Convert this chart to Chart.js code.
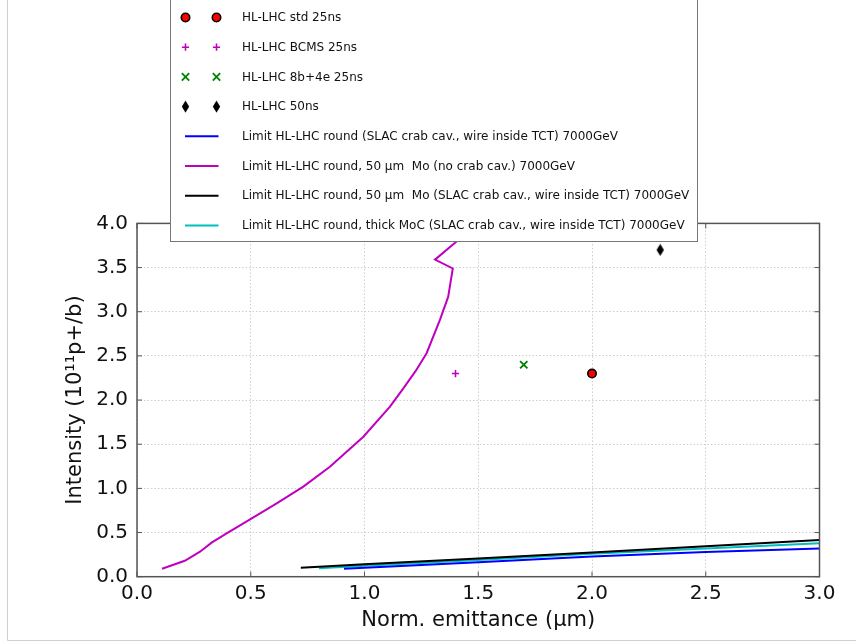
<!DOCTYPE html>
<html>
<head>
<meta charset="utf-8">
<script src="https://cdn.jsdelivr.net/npm/chart.js@4.4.1/dist/chart.umd.min.js"></script>
<style>
  body { margin: 0; background: #fff; }
  #wrap { position: relative; width: 856px; height: 644px; }
</style>
</head>
<body>
<div id="wrap"><canvas id="grafico" width="856" height="644"></canvas></div>
<script>
// tick values
const xTicks = [0, 0.5, 1.0, 1.5, 2.0, 2.5, 3.0];
const yTicks = [0, 0.5, 1.0, 1.5, 2.0, 2.5, 3.0, 3.5, 4.0];

// scenario points
const stdX = [2.0], stdY = [2.3];
const bcmsX = [1.4], bcmsY = [2.3];
const b8e4X = [1.7], b8e4Y = [2.4];
const ns50X = [2.3], ns50Y = [3.7];

// limit curves
const slacX = [0.91, 1.0, 1.5, 2.0, 2.5, 3.0];
const slacY = [0.09, 0.10, 0.165, 0.23, 0.28, 0.32];

const noCrabX = [0.11, 0.21, 0.277, 0.328, 0.394, 0.497, 0.614, 0.731, 0.848, 0.995, 1.112, 1.17, 1.225, 1.273, 1.332, 1.368, 1.388, 1.31, 1.398, 1.46, 1.52];
const noCrabY = [0.09, 0.18, 0.283, 0.385, 0.49, 0.65, 0.83, 1.02, 1.245, 1.585, 1.925, 2.13, 2.33, 2.53, 2.91, 3.17, 3.49, 3.59, 3.78, 3.92, 4.05];

const moSlacX = [0.72, 1.0, 1.5, 2.0, 2.5, 3.0];
const moSlacY = [0.10, 0.14, 0.205, 0.275, 0.345, 0.415];

const mocX = [0.80, 1.0, 1.5, 2.0, 2.5, 3.0];
const mocY = [0.095, 0.125, 0.19, 0.26, 0.32, 0.38];

const pares = (xs, ys) => xs.map((x, i) => ({ x, y: ys[i] }));

// losango fino (marcador 'd')
const losango = document.createElement('canvas');
losango.width = 9; losango.height = 13;
(function () {
  const c = losango.getContext('2d');
  c.fillStyle = '#000';
  c.beginPath();
  c.moveTo(4.5, 0.5); c.lineTo(8.2, 6.5); c.lineTo(4.5, 12.5); c.lineTo(0.8, 6.5);
  c.closePath(); c.fill();
})();

const datasets = [
  { label: 'HL-LHC std 25ns', data: pares(stdX, stdY), pointStyle: 'circle', pointRadius: 4.2,
    backgroundColor: '#ff0000', borderColor: '#000', pointBorderWidth: 1.6, showLine: false },
  { label: 'HL-LHC BCMS 25ns', data: pares(bcmsX, bcmsY), pointStyle: 'cross', pointRadius: 3.6,
    borderColor: '#bf00bf', backgroundColor: '#bf00bf', pointBorderWidth: 1.6, showLine: false },
  { label: 'HL-LHC 8b+4e 25ns', data: pares(b8e4X, b8e4Y), pointStyle: 'crossRot', pointRadius: 5.2,
    borderColor: '#008000', backgroundColor: '#008000', pointBorderWidth: 1.8, showLine: false },
  { label: 'HL-LHC 50ns', data: pares(ns50X, ns50Y), pointStyle: losango, pointRadius: 6,
    borderColor: '#000', backgroundColor: '#000', showLine: false },
  { label: 'Limit HL-LHC round (SLAC crab cav., wire inside TCT) 7000GeV', data: pares(slacX, slacY),
    showLine: true, borderColor: '#0000ff', borderWidth: 2, pointRadius: 0, tension: 0 },
  { label: 'Limit HL-LHC round, 50 μm  Mo (no crab cav.) 7000GeV', data: pares(noCrabX, noCrabY),
    showLine: true, borderColor: '#bf00bf', borderWidth: 2, pointRadius: 0, tension: 0 },
  { label: 'Limit HL-LHC round, 50 μm  Mo (SLAC crab cav., wire inside TCT) 7000GeV', data: pares(moSlacX, moSlacY),
    showLine: true, borderColor: '#000000', borderWidth: 2, pointRadius: 0, tension: 0 },
  { label: 'Limit HL-LHC round, thick MoC (SLAC crab cav., wire inside TCT) 7000GeV', data: pares(mocX, mocY),
    showLine: true, borderColor: '#00bfbf', borderWidth: 2, pointRadius: 0, tension: 0 }
];

const moldura = {
  id: 'moldura',
  afterDatasetsDraw(chart) {
    const { ctx, chartArea: a, scales } = chart;
    ctx.save();
    ctx.strokeStyle = '#555';
    ctx.lineWidth = 1.5;
    ctx.strokeRect(a.left, a.top, a.right - a.left, a.bottom - a.top);
    ctx.lineWidth = 1;
    ctx.beginPath();
    xTicks.forEach(v => {
      const px = scales.x.getPixelForValue(v);
      ctx.moveTo(px, a.bottom); ctx.lineTo(px, a.bottom - 5);
      ctx.moveTo(px, a.top); ctx.lineTo(px, a.top + 5);
    });
    yTicks.forEach(v => {
      const py = scales.y.getPixelForValue(v);
      ctx.moveTo(a.left, py); ctx.lineTo(a.left + 5, py);
      ctx.moveTo(a.right, py); ctx.lineTo(a.right - 5, py);
    });
    ctx.stroke();
    ctx.restore();
  },
  afterDraw(chart) {
    const ctx = chart.ctx;
    ctx.save();
    // borda da imagem
    ctx.strokeStyle = '#cfcfcf';
    ctx.lineWidth = 1;
    ctx.beginPath();
    ctx.moveTo(7.5, 0); ctx.lineTo(7.5, 640.5); ctx.lineTo(856, 640.5);
    ctx.stroke();

    // legenda
    const L = 170.5, T = -0.5, R = 697.5, B = 241.5;
    ctx.fillStyle = '#fff';
    ctx.fillRect(L, T, R - L, B - T);
    ctx.strokeStyle = '#777';
    ctx.strokeRect(L, T, R - L, B - T);
    ctx.font = '12px "DejaVu Sans"';
    ctx.textBaseline = 'middle';
    chart.data.datasets.forEach((ds, i) => {
      const y = 17.5 + i * 29.7;
      if (ds.showLine) {
        ctx.strokeStyle = ds.borderColor;
        ctx.lineWidth = ds.borderWidth;
        ctx.beginPath();
        ctx.moveTo(185, y); ctx.lineTo(218.5, y);
        ctx.stroke();
      } else {
        [185.5, 216.5].forEach(mx => {
          ctx.fillStyle = ds.backgroundColor;
          ctx.strokeStyle = ds.borderColor;
          ctx.lineWidth = ds.pointBorderWidth || 1;
          Chart.helpers.drawPoint(ctx, { pointStyle: ds.pointStyle, radius: ds.pointRadius, rotation: 0, borderWidth: ds.pointBorderWidth || 1 }, mx, y);
        });
      }
      ctx.fillStyle = '#111';
      ctx.fillText(ds.label, 242, y + 0.5);
    });
    ctx.restore();
  }
};

new Chart(document.getElementById('grafico'), {
  type: 'scatter',
  data: { datasets },
  options: {
    responsive: false,
    animation: false,
    layout: { padding: { left: 0, right: 36.5, top: 223.4, bottom: 0 } },
    plugins: { legend: { display: false }, tooltip: { enabled: false } },
    scales: {
      x: {
        type: 'linear', min: 0, max: 3,
        afterFit: s => { s.height = 67.3; },
        afterBuildTicks: s => { s.ticks = xTicks.map(v => ({ value: v })); },
        ticks: { padding: 5, color: '#111', font: { family: 'DejaVu Sans', size: 20 }, callback: v => v.toFixed(1), maxRotation: 0 },
        grid: { color: '#cdcdcd', lineWidth: 1, drawTicks: false },
        border: { display: false, dash: [1.5, 2] },
        title: { display: true, text: 'Norm. emittance (μm)', color: '#111',
          font: { family: 'DejaVu Sans', size: 21 }, padding: { top: 0, bottom: 11 } }
      },
      y: {
        type: 'linear', min: 0, max: 4,
        afterFit: s => { s.width = 137; },
        afterBuildTicks: s => { s.ticks = yTicks.map(v => ({ value: v })); },
        ticks: { padding: 9, color: '#111', font: { family: 'DejaVu Sans', size: 20 }, callback: v => v.toFixed(1) },
        grid: { color: '#cdcdcd', lineWidth: 1, drawTicks: false },
        border: { display: false, dash: [1.5, 2] },
        title: { display: true, text: 'Intensity (10¹¹p+/b)', color: '#111',
          font: { family: 'DejaVu Sans', size: 21 }, padding: { top: 63, bottom: 0 } }
      }
    }
  },
  plugins: [moldura]
});
</script>
</body>
</html>
